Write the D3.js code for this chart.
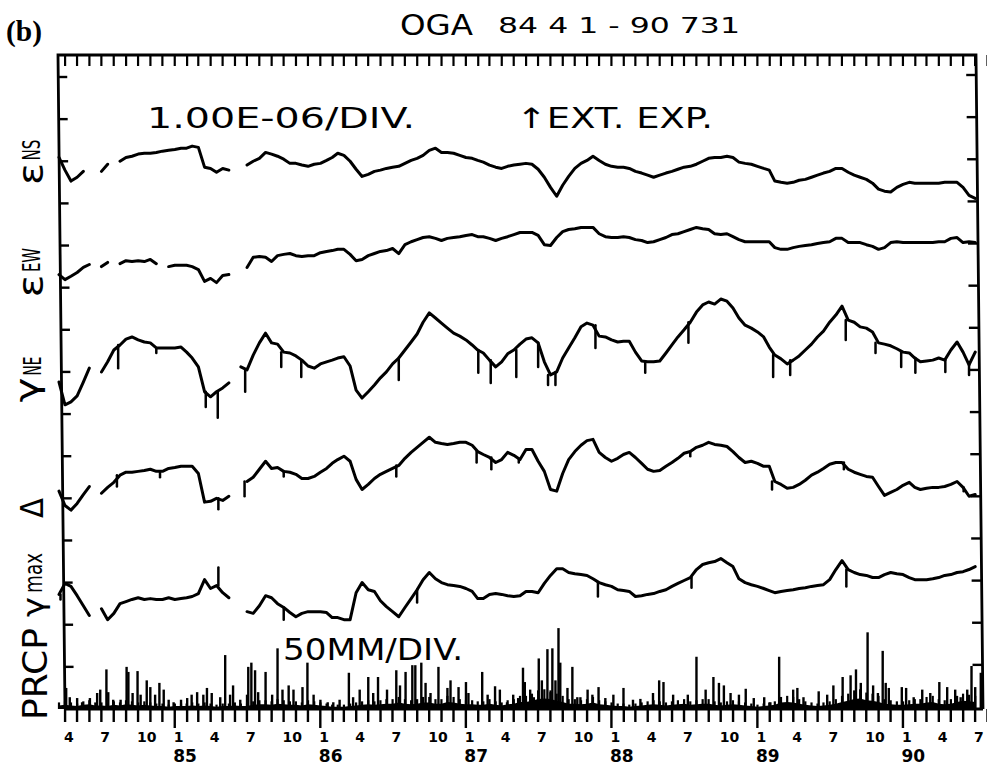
<!DOCTYPE html>
<html>
<head>
<meta charset="utf-8">
<script src="https://cdn.jsdelivr.net/npm/d3@7"></script>
<style>
  body { margin: 0; background: #fff; }
  text { font-family: "DejaVu Sans", sans-serif; fill: #000; }
</style>
</head>
<body>
<svg id="chart" width="987" height="767"></svg>
<script>
// Strain series, units of 1e-6, sampled every half month from 1984-04-01 (null = no data)
const nsVals = [0.09,-0.21,-0.47,-0.38,-0.24,null,null,-0.24,-0.07,null,
  0,0.09,0.12,0.17,0.19,0.19,0.21,0.24,0.26,0.28,
  0.31,0.31,0.36,0.33,-0.14,-0.17,-0.26,-0.17,-0.21,null,
  null,-0.09,0,0.07,0.21,0.17,0.12,0.05,-0.05,-0.05,
  -0.09,-0.12,-0.07,-0.05,0.02,0.09,0.19,0.14,0,-0.19,
  -0.36,-0.31,-0.24,-0.21,-0.17,-0.14,-0.12,-0.05,0.02,0.07,
  0.14,0.26,0.31,0.21,0.21,0.19,0.14,0.09,0.07,0.02,
  -0.02,-0.09,-0.14,-0.17,-0.12,-0.09,-0.07,-0.05,-0.07,-0.19,
  -0.38,-0.62,-0.83,-0.57,-0.36,-0.17,-0.05,0.02,0.12,0.02,
  -0.07,-0.12,-0.14,-0.14,-0.17,-0.24,-0.28,-0.33,-0.38,-0.33,
  -0.28,-0.24,-0.19,-0.14,-0.12,-0.07,0,0.07,0.09,0.09,
  0.12,0.09,-0.02,-0.05,-0.07,-0.12,-0.17,-0.21,-0.47,-0.50,
  -0.52,-0.50,-0.45,-0.43,-0.38,-0.33,-0.28,-0.24,-0.17,-0.17,
  -0.26,-0.33,-0.38,-0.43,-0.52,-0.66,-0.71,-0.73,-0.62,-0.55,
  -0.50,-0.52,-0.52,-0.52,-0.52,-0.52,-0.50,-0.50,-0.50,-0.62,
  -0.81,-0.88];

const ewVals = [-0.69,-0.81,-0.73,-0.64,-0.52,-0.45,null,-0.50,-0.40,null,
  -0.43,-0.36,-0.38,-0.36,-0.38,-0.33,-0.43,null,-0.50,-0.47,
  -0.47,-0.47,-0.50,-0.57,-0.85,-0.78,-0.88,-0.71,-0.69,null,
  null,-0.52,-0.28,-0.26,-0.28,-0.38,-0.24,-0.21,-0.19,-0.24,
  -0.26,-0.24,-0.24,-0.17,-0.14,-0.12,-0.09,-0.09,-0.21,-0.36,
  -0.33,-0.24,-0.19,-0.14,-0.12,-0.07,-0.19,0.02,0.09,0.14,
  0.19,0.21,0.17,0.12,0.17,0.19,0.21,0.24,0.26,0.21,
  0.21,0.17,0.12,0.17,0.21,0.26,0.31,0.31,0.31,0.24,
  0.02,0,0.19,0.33,0.38,0.40,0.43,0.43,0.43,0.28,
  0.21,0.19,0.19,0.21,0.19,0.14,0.12,0.07,0.09,0.14,
  0.19,0.26,0.28,0.33,0.38,0.43,0.40,0.38,0.28,0.26,
  0.28,0.21,0.14,0.09,0.09,0.09,0.09,0.09,-0.05,-0.09,
  -0.09,-0.05,-0.02,0,0.02,0.05,0.07,0.09,0.17,0.17,
  0.07,0.07,0.07,0.02,-0.02,-0.09,-0.05,0.07,0.09,0.07,
  0.07,0.07,0.07,0.07,0.07,0.09,0.09,0.17,0.19,0.07,
  0.09,0.07];

const neVals = [-0.24,-0.78,-0.71,-0.57,-0.24,0.09,null,0,0.24,0.52,
  0.64,0.78,0.83,0.76,0.71,0.69,0.57,0.57,0.57,0.57,
  0.59,0.47,0.33,0.12,-0.47,-0.59,-0.47,-0.38,-0.26,null,
  0.12,0.05,0.40,0.69,0.92,0.69,0.66,0.47,0.45,0.38,
  0.28,0.14,0.09,0.19,0.24,0.28,0.33,0.36,0.14,-0.43,
  -0.62,-0.47,-0.31,-0.14,0,0.19,0.33,0.52,0.71,0.90,
  1.18,1.40,1.28,1.16,1.04,0.92,0.85,0.76,0.64,0.52,
  0.45,0.28,0.12,0.24,0.43,0.52,0.66,0.78,0.81,0.69,
  0.24,-0.07,0,0.33,0.57,0.81,1.07,1.16,1.11,0.85,
  0.83,0.76,0.71,0.73,0.73,0.47,0.26,0.24,0.24,0.26,
  0.45,0.64,0.83,1.00,1.18,1.42,1.59,1.66,1.61,1.73,
  1.68,1.52,1.28,1.11,1.04,0.95,0.83,0.59,0.40,0.31,
  0.19,0.28,0.38,0.52,0.66,0.83,0.97,1.18,1.35,1.56,
  1.23,1.18,1.07,1.04,0.95,0.69,0.66,0.62,0.55,0.47,
  0.45,0.33,0.24,0.26,0.28,0.33,0.28,0.52,0.71,0.47,
  0.17,0.47];

const deltaVals = [0.17,-0.17,-0.28,-0.12,0.09,0.28,null,0.12,0.26,0.38,
  0.55,0.62,0.62,0.64,0.66,0.69,0.64,0.64,0.71,0.73,
  0.76,0.76,0.76,0.59,-0.09,-0.07,0,-0.05,0.05,null,
  null,0.40,0.50,0.69,0.88,0.71,0.73,0.64,0.62,0.57,
  0.47,0.47,0.52,0.62,0.71,0.83,0.92,1.00,0.88,0.45,
  0.21,0.33,0.47,0.57,0.64,0.71,0.78,0.95,1.09,1.21,
  1.33,1.45,1.33,1.30,1.28,1.30,1.33,1.33,1.26,1.11,
  1.04,0.97,0.85,0.92,1.09,1.02,0.92,1.16,1.16,0.88,
  0.64,0.21,0.17,0.59,0.92,1.11,1.26,1.37,1.40,1.09,
  0.97,0.88,0.95,1.04,1.09,0.97,0.83,0.69,0.64,0.66,
  0.76,0.85,0.95,1.07,1.11,1.21,1.26,1.33,1.28,1.26,
  1.23,1.11,0.97,0.85,0.88,0.83,0.76,0.76,0.40,0.33,
  0.24,0.26,0.33,0.43,0.55,0.62,0.71,0.81,0.85,0.85,
  0.69,0.62,0.57,0.52,0.50,0.28,0.07,0.14,0.21,0.31,
  0.38,0.26,0.21,0.24,0.26,0.26,0.28,0.33,0.40,0.26,
  0.05,0.09];

const gmaxVals = [-0.28,-0.02,-0.09,-0.31,-0.55,-0.78,null,-0.62,-0.88,-0.73,
  -0.50,-0.45,-0.40,-0.36,-0.40,-0.38,-0.40,-0.40,-0.36,-0.40,
  -0.38,-0.36,-0.33,-0.26,0.07,-0.14,-0.07,-0.24,-0.36,null,
  null,-0.69,-0.73,-0.55,-0.31,-0.36,-0.50,-0.59,-0.71,-0.81,
  -0.73,-0.69,-0.69,-0.69,-0.71,-0.83,-0.83,-0.88,-0.88,-0.24,
  0,-0.17,-0.21,-0.43,-0.57,-0.69,-0.81,-0.59,-0.38,-0.17,
  0.07,0.24,0.09,0,-0.05,-0.07,-0.09,-0.14,-0.21,-0.38,
  -0.38,-0.28,-0.26,-0.28,-0.31,-0.33,-0.31,-0.21,-0.21,-0.24,
  -0.02,0.17,0.33,0.33,0.24,0.21,0.19,0.17,0.09,0,
  -0.05,-0.09,-0.17,-0.19,-0.21,-0.33,-0.31,-0.28,-0.26,-0.21,
  -0.17,-0.09,-0.02,0.05,0.12,0.31,0.43,0.47,0.50,0.57,
  0.47,0.38,0.09,0,-0.05,-0.09,-0.14,-0.19,-0.24,-0.21,
  -0.19,-0.17,-0.14,-0.12,-0.09,-0.07,-0.05,0.07,0.31,0.52,
  0.31,0.24,0.19,0.17,0.12,0.12,0.19,0.24,0.21,0.19,
  0.12,0.07,0.07,0.07,0.09,0.12,0.17,0.19,0.24,0.26,
  0.31,0.38];

// short excursions between samples: [half-month index, tip value]
const neSpikes = [[9.7,0.09],[16,0.45],[24.2,-0.83],[26.2,-1.09],[30.7,-0.47],[36.6,0.12],[39.9,-0.12],
  [56,-0.19],[69.1,-0.02],[71.2,-0.26],[75.4,-0.12],[79,0.12],[80.6,-0.31],[81.8,-0.31],[88.4,0.57],
  [96.6,-0.02],[103.7,0.69],[117.7,-0.12],[120.5,-0.07],[129.6,0.76],[134.5,0.45],[138.7,0.12],
  [141.1,-0.02],[146.1,0],[150,-0.07]];
const deltaSpikes = [[9.5,0.28],[16.6,0.50],[26.3,-0.26],[30.6,0.05],[37,0.52],[55.6,0.52],[68.8,0.85],
  [71.3,0.69],[75.8,0.85],[104,1.00],[117.5,0.21],[129.3,0.69],[149.1,0.17]];
const gmaxSpikes = [[0.25,-0.40],[26.3,0.36],[37,-0.88],[59,-0.47],[88.8,-0.33],[104.2,-0.12],[129.7,-0.09]];

// Precipitation: [half-month index, mm]
const prcpBars = [[1.2,25],[1.8,14],[3.0,13],[3.8,8],[5.1,13],[6.3,19],[6.8,23],[7.8,47],[8.1,20],[8.9,11],
  [10.1,11],[11.1,50],[11.4,44],[12.1,19],[12.9,45],[13.4,17],[14.4,34],[15.0,26],[15.8,17],[16.5,31],
  [17.2,23],[18.0,11],[18.8,8],[20.0,11],[21.1,13],[21.9,17],[22.8,20],[23.8,17],[24.4,25],[25.2,19],
  [26.6,14],[27.4,64],[28.2,17],[28.7,28],[29.9,11],[31.0,17],[31.2,50],[31.7,55],[32.3,46],[32.8,20],
  [34.0,44],[35.1,17],[36.0,72],[36.8,23],[37.8,28],[38.6,23],[40.1,26],[40.9,55],[41.9,17],[43.0,11],
  [44.2,8],[45.2,8],[46.3,11],[47.8,43],[48.5,14],[49.6,23],[51.0,38],[51.8,19],[52.6,38],[54.1,23],
  [55.6,46],[56.2,28],[57.1,44],[58.2,52],[58.7,52],[59.7,55],[60.4,31],[61.2,19],[62.5,50],[64.0,25],
  [64.5,34],[65.8,26],[67.0,32],[67.4,19],[69.8,44],[70.7,17],[71.9,27],[72.7,23],[73.9,8],[74.9,17],
  [75.7,13],[76.5,49],[76.8,32],[77.7,23],[78.3,14],[79.1,60],[79.6,34],[80.5,71],[81.0,20],[81.3,72],
  [81.8,34],[82.3,96],[82.6,55],[83.8,25],[84.6,50],[85.4,14],[85.9,14],[87.1,23],[87.9,17],[88.9,26],
  [90.0,13],[91.3,17],[93.0,25],[94.6,11],[95.8,12],[97.9,19],[98.9,34],[99.6,32],[101.2,17],[103.6,17],
  [105.0,62],[106.5,23],[107.8,38],[108.7,31],[109.5,28],[110.6,19],[112.0,17],[113.1,24],[114.4,13],[116.1,14],
  [117.2,8],[118.7,62],[121.0,23],[121.7,25],[122.7,14],[125.2,21],[126.6,17],[127.6,28],[129.1,38],[130.4,40],
  [131.3,47],[132.1,31],[133.2,91],[134.1,28],[134.9,19],[135.7,69],[136.2,31],[136.7,25],[138.8,26],[139.5,25],
  [140.8,14],[142.3,23],[143.6,19],[145.1,32],[146.4,26],[147.7,23],[148.6,14],[149.7,23],[150.4,51],[151.0,26],
  [151.9,43]];
// light daily rain forming the dense band at the base, mm per half month sample
const prcpFloor = [6,7,6,5,7,8,6,6,5,7,6,
  8,7,6,7,6,5,5,4,5,5,
  5,6,5,6,5,4,5,5,6,5,
  5,7,8,8,7,9,8,7,7,6,
  8,7,6,5,4,4,4,5,6,7,
  8,7,8,9,9,11,9,8,9,11,
  11,9,9,12,11,9,8,8,7,7,
  9,7,6,8,9,12,12,14,17,18,
  17,14,12,9,9,8,9,11,8,7,
  6,5,5,4,5,6,7,8,7,6,
  7,8,9,7,8,9,9,7,6,7,
  8,7,6,5,4,5,6,7,11,12,
  11,9,7,6,5,6,7,9,12,14,
  17,18,15,14,12,9,8,7,7,8,
  9,9,11,12,9,8,9,12,14,13,12];

const monthLabels = {4: '4', 7: '7', 10: '10', 1: '1'};
const yearLabels = ['85', '86', '87', '88', '89', '90'];

const svg = d3.select('#chart');
const start = new Date(1984, 3, 1);
const end = new Date(1990, 6, 31);

const x = d3.scaleTime().domain([start, end]).range([59, 981]);
const y = d3.scaleLinear().domain([0, 15]).range([709, 77]);      // one division = 1.00E-06
const yP = d3.scaleLinear().domain([0, 50]).range([709, y(1)]);   // one division = 50 mm

function halfMonth(k) {
    const m = Math.floor(k / 2);
    const a = d3.timeMonth.offset(start, m);
    const b = d3.timeMonth.offset(start, m + 1);
    return new Date(+a + (k / 2 - m) * (b - a));
}

// frame (the scanned frame leans slightly)
const frameTop = 55, frameBot = 709;
const lx = yy => 58 + (yy - frameTop) * 7 / (frameBot - frameTop);
const rx = yy => 976 + (yy - frameTop) * 7 / (frameBot - frameTop);

svg.append('path')
    .attr('d', `M${lx(frameBot)},${frameBot} L${lx(frameTop)},${frameTop} L${rx(frameTop)},${frameTop} L${rx(frameBot)},${frameBot}`)
    .attr('fill', 'none').attr('stroke', '#000').attr('stroke-width', 2.8);
svg.append('line')
    .attr('x1', lx(frameBot)).attr('x2', rx(frameBot)).attr('y1', frameBot).attr('y2', frameBot)
    .attr('stroke', '#000').attr('stroke-width', 3.2);

// side ticks
const divs = d3.range(1, 16);
svg.append('g').selectAll('line').data(divs).enter().append('line')
    .attr('x1', d => lx(y(d))).attr('x2', d => lx(y(d)) + 9)
    .attr('y1', d => y(d)).attr('y2', d => y(d))
    .attr('stroke', '#000').attr('stroke-width', 2.4);
svg.append('g').selectAll('line').data(divs).enter().append('line')
    .attr('x1', d => rx(y(d) - 2) - 10).attr('x2', d => rx(y(d) - 2))
    .attr('y1', d => y(d) - 2).attr('y2', d => y(d) - 2)
    .attr('stroke', '#000').attr('stroke-width', 2.4);

// month ticks (mid-month)
const monthTicks = d3.timeMonth.range(start, d3.timeMonth.offset(end, 1)).map(d => d3.timeDay.offset(d, 14));

const topAxis = svg.append('g')
    .attr('transform', `translate(0,${frameTop})`)
    .call(d3.axisBottom(x).tickValues(monthTicks).tickSize(11).tickFormat(''));
topAxis.select('.domain').remove();
topAxis.selectAll('line').attr('stroke-width', 2.2);

const botAxis = svg.append('g')
    .attr('transform', `translate(0,${frameBot})`)
    .call(d3.axisBottom(x).tickValues(monthTicks).tickSize(13)
        .tickFormat(d => monthLabels[d.getMonth() + 1] || ''));
botAxis.select('.domain').remove();
botAxis.selectAll('line')
    .attr('stroke-width', 2.4)
    .attr('y2', d => d.getMonth() === 0 ? 19 : 13);
botAxis.selectAll('text')
    .attr('y', 33).attr('dy', null).attr('x', -1)
    .attr('text-anchor', 'start')
    .style('font-size', '14px').style('font-weight', 'bold')
    .style('font-family', '"DejaVu Sans", sans-serif');

svg.append('g').selectAll('text').data(yearLabels).enter().append('text')
    .attr('x', (d, i) => x(new Date(1985 + i, 0, 15)) - 1)
    .attr('y', 762)
    .style('font-size', '17px').style('font-weight', 'bold')
    .text(d => d);

// strain curves
const series = [
    {vals: nsVals, off: 13, spikes: []},
    {vals: ewVals, off: 11, spikes: []},
    {vals: neVals, off: 8, spikes: neSpikes},
    {vals: deltaVals, off: 5, spikes: deltaSpikes},
    {vals: gmaxVals, off: 3, spikes: gmaxSpikes}
];

const line = d3.line()
    .defined(d => d.v != null)
    .x(d => x(halfMonth(d.k)))
    .y(d => y(d.off + d.v));

const curves = svg.append('g');
series.forEach(s => {
    const pts = s.vals.map((v, k) => ({k: k, v: v, off: s.off}));
    curves.append('path')
        .attr('d', line(pts))
        .attr('fill', 'none').attr('stroke', '#000')
        .attr('stroke-width', 3)
        .attr('stroke-linejoin', 'round').attr('stroke-linecap', 'round');

    curves.append('g').selectAll('line').data(s.spikes).enter().append('line')
        .attr('x1', d => x(halfMonth(d[0]))).attr('x2', d => x(halfMonth(d[0])))
        .attr('y1', d => {
            const base = s.vals[Math.round(d[0])] ?? s.vals[Math.ceil(d[0])] ?? s.vals[Math.floor(d[0])];
            return y(s.off + base);
        })
        .attr('y2', d => y(s.off + d[1]))
        .attr('stroke', '#000').attr('stroke-width', 2.5).attr('stroke-linecap', 'round');
});

// precipitation: solid low band, then the daily sticks on top
const floorArea = d3.area()
    .x((d, k) => x(halfMonth(k)))
    .y0(yP(0))
    .y1(d => yP(d * 0.7));
svg.append('path')
    .attr('d', floorArea(prcpFloor))
    .attr('fill', '#000');

svg.append('g').selectAll('line').data(prcpFloor).enter().append('line')
    .attr('x1', (d, k) => x(halfMonth(k))).attr('x2', (d, k) => x(halfMonth(k)))
    .attr('y1', yP(0)).attr('y2', d => yP(d * 1.3))
    .attr('stroke', '#000').attr('stroke-width', 2.2);

svg.append('g').selectAll('line').data(prcpBars).enter().append('line')
    .attr('x1', d => x(halfMonth(d[0]))).attr('x2', d => x(halfMonth(d[0])))
    .attr('y1', yP(0)).attr('y2', d => yP(d[1]))
    .attr('stroke', '#000').attr('stroke-width', 2.4);

// texts
function label(txt, xx, yy, size, len, extra) {
    const t = svg.append('text')
        .attr('x', xx).attr('y', yy)
        .style('font-size', size + 'px')
        .text(txt);
    if (len) t.attr('textLength', len).attr('lengthAdjust', 'spacingAndGlyphs');
    if (extra) extra(t);
    return t;
}

label('(b)', 6, 41, 30, 36, t => t.style('font-family', '"Liberation Serif", serif').style('font-weight', 'bold'));
label('OGA', 400, 35, 28, 73);
label('84 4 1 - 90 731', 498, 33, 22, 242);
label('1.00E-06/DIV.', 147, 128, 28, 268);
label('\u2191EXT. EXP.', 516, 128, 28, 197);
label('50MM/DIV.', 283, 660, 31, 180);

function vlabel(txt, cy, bx, size, len) {
    svg.append('text')
        .attr('transform', `translate(${bx},${cy}) rotate(-90)`)
        .attr('text-anchor', 'middle')
        .attr('textLength', len).attr('lengthAdjust', 'spacingAndGlyphs')
        .style('font-size', size + 'px')
        .text(txt);
}

vlabel('\u03b5', 174, 43, 36, 22);
vlabel('NS', 150, 40, 24, 21);
vlabel('\u03b5', 286, 43, 36, 23);
vlabel('EW', 260, 40, 24, 24);
vlabel('\u03b3', 390, 38, 32, 25);
vlabel('NE', 366, 41, 24, 19);
vlabel('\u0394', 508, 43, 32, 20);
vlabel('\u03b3', 607, 44, 30, 20);
vlabel('max', 573, 42, 24, 40);
vlabel('PRCP', 674, 47, 33, 92);
</script>
</body>
</html>
